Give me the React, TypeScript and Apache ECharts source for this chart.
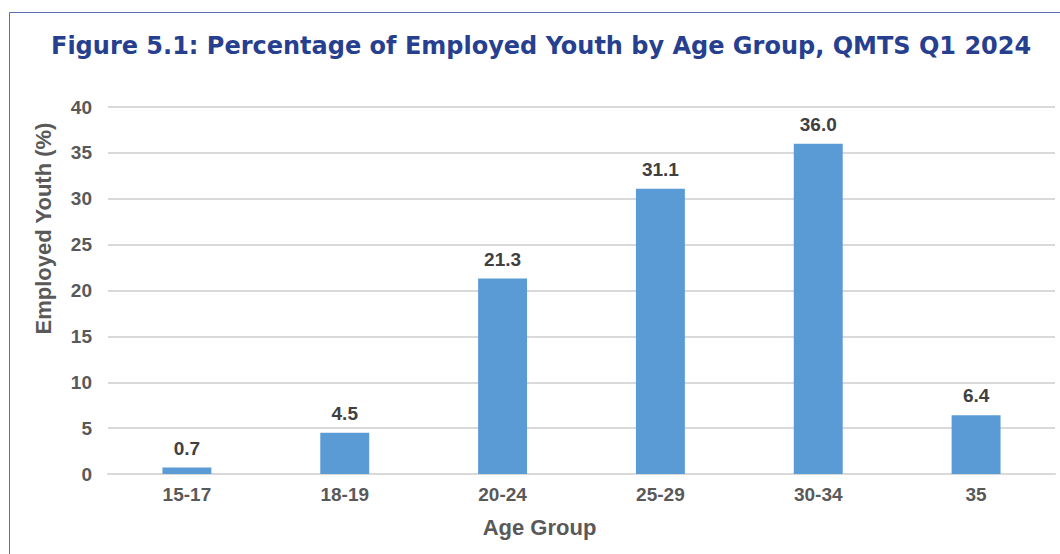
import React, { useEffect, useRef } from "react";
import * as echarts from "echarts";

const categories = ["15-17", "18-19", "20-24", "25-29", "30-34", "35"];
const values = [0.7, 4.5, 21.3, 31.1, 36.0, 6.4];
const titleText = "Figure 5.1: Percentage of Employed Youth by Age Group, QMTS Q1 2024";

export default function App() {
  const ref = useRef<HTMLDivElement>(null);
  useEffect(() => {
    const chart = echarts.init(ref.current!, null, { renderer: "svg" });
    chart.setOption({
      animation: false,
      backgroundColor: "#ffffff",
      title: {
        text: titleText,
        left: 46,
        top: 29,
        textStyle: {
          fontFamily: "DejaVu Sans",
          fontWeight: "bold",
          fontSize: 24,
          color: "#273f8f",
        },
      },
      graphic: [
        {
          type: "rect",
          shape: { x: 9.5, y: 12.5, width: 1100, height: 600 },
          style: { fill: "none", stroke: "#5b6fb8", lineWidth: 1 },
          silent: true,
        },
      ],
      grid: { left: 108, right: 5, top: 107, bottom: 80 },
      xAxis: {
        type: "category",
        data: categories,
        name: "Age Group",
        nameLocation: "middle",
        nameGap: 42,
        nameTextStyle: {
          fontFamily: "Liberation Sans",
          fontWeight: "bold",
          fontSize: 22,
          color: "#595959",
          padding: [0, 84, 0, 0],
        },
        axisLine: { show: true, lineStyle: { color: "#d9d9d9", width: 2 } },
        axisTick: { show: false },
        axisLabel: {
          margin: 11,
          fontFamily: "Liberation Sans",
          fontWeight: "bold",
          fontSize: 19,
          color: "#595959",
        },
      },
      yAxis: {
        type: "value",
        min: 0,
        max: 40,
        interval: 5,
        name: "Employed Youth (%)",
        nameLocation: "middle",
        nameGap: 54,
        nameRotate: 90,
        nameTextStyle: {
          fontFamily: "Liberation Sans",
          fontWeight: "bold",
          fontSize: 22,
          color: "#595959",
          padding: [0, 0, 0, 124],
        },
        axisLine: { show: false },
        axisTick: { show: false },
        splitLine: { lineStyle: { color: "#d9d9d9", width: 2 } },
        axisLabel: {
          margin: 16,
          fontFamily: "Liberation Sans",
          fontWeight: "bold",
          fontSize: 19,
          color: "#595959",
        },
      },
      series: [
        {
          type: "bar",
          data: values,
          barWidth: "31%",
          itemStyle: { color: "#5b9bd5" },
          label: {
            show: true,
            position: "top",
            distance: 10,
            formatter: (p: any) => Number(p.value).toFixed(1),
            fontFamily: "Liberation Sans",
            fontWeight: "bold",
            fontSize: 19,
            color: "#404040",
          },
        },
      ],
    });
    return () => chart.dispose();
  }, []);
  return (
    <div
      ref={ref}
      style={{ position: "fixed", left: 0, top: 0, width: 1060, height: 554 }}
    />
  );
}
